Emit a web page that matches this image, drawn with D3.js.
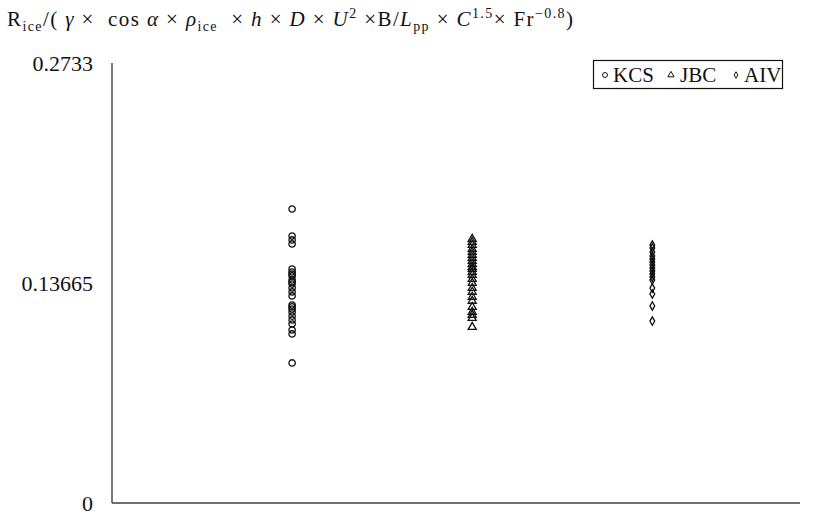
<!DOCTYPE html>
<html>
<head>
<meta charset="utf-8">
<script src="https://cdn.jsdelivr.net/npm/d3@7"></script>
<style>
  body { margin: 0; background: #fff; }
</style>
</head>
<body>
<svg id="chart" width="818" height="516" font-family="'Liberation Serif', 'DejaVu Serif', serif"></svg>
<script>
const svg = d3.select("#chart");

// data
const series_names = ["KCS", "JBC", "AIV"];
const series_x = [1, 2, 3];
const kcs_vals = [0.1826, 0.1658, 0.1634, 0.1609, 0.1453, 0.1435, 0.1422, 0.1410, 0.1385, 0.1373, 0.1360,
	0.1335, 0.1311, 0.1286, 0.1230, 0.1218, 0.1205, 0.1186, 0.1161, 0.1137, 0.1112, 0.1075, 0.1050, 0.0870];
const jbc_vals = [0.1640, 0.1621, 0.1602, 0.1578, 0.1559, 0.1540, 0.1522, 0.1503, 0.1484, 0.1466, 0.1453,
	0.1435, 0.1416, 0.1391, 0.1366, 0.1335, 0.1311, 0.1280, 0.1255, 0.1217, 0.1186, 0.1168, 0.1149, 0.1093];
const aiv_vals = [0.1602, 0.1584, 0.1559, 0.1534, 0.1516, 0.1497, 0.1478, 0.1460, 0.1441, 0.1422, 0.1404,
	0.1385, 0.1335, 0.1298, 0.1224, 0.1130];
const y_ticks = [0, 0.13665, 0.2733];
const y_tick_labels = ["0", "0.13665", "0.2733"];

const x = d3.scaleLinear().domain([0, 3.82]).range([112, 800]);
const y = d3.scaleLinear().domain([0, 0.2733]).range([503, 63]);

// axes
svg.append("line").attr("x1", x(0)).attr("x2", x(0)).attr("y1", y(0.2733)).attr("y2", y(0))
	.attr("stroke", "#404040").attr("stroke-width", 1.4);
svg.append("line").attr("x1", x(0)).attr("x2", x(3.82)).attr("y1", y(0)).attr("y2", y(0))
	.attr("stroke", "#404040").attr("stroke-width", 1.4);

svg.append("g")
	.selectAll("text")
	.data(y_ticks)
	.join("text")
	.attr("x", 93)
	.attr("y", (d) => y(d))
	.attr("dy", "0.35em")
	.attr("text-anchor", "end")
	.attr("font-size", 22)
	.attr("fill", "#111")
	.text((d, i) => y_tick_labels[i]);

// markers
const shapes = [d3.symbolCircle, d3.symbolTriangle, d3.symbolDiamond];
const sizes = [32, 28, 20];
const all_vals = [kcs_vals, jbc_vals, aiv_vals];

all_vals.forEach((vals, i) => {
	svg.append("g")
		.selectAll("path")
		.data(vals)
		.join("path")
		.attr("d", d3.symbol().type(shapes[i]).size(sizes[i]))
		.attr("transform", (d) => `translate(${x(series_x[i])},${y(d)})`)
		.attr("fill", "none")
		.attr("stroke", "#111")
		.attr("stroke-width", 1.3);
});

// legend
const legend = svg.append("g");
legend.append("rect").attr("x", 593.5).attr("y", 60.5).attr("width", 189).attr("height", 28)
	.attr("fill", "#fff").attr("stroke", "#111").attr("stroke-width", 1.2);
const legend_sym_x = [605, 671, 736];
const legend_text_x = [613, 680, 744];
series_names.forEach((name, i) => {
	legend.append("path")
		.attr("d", d3.symbol().type(shapes[i]).size(sizes[i] * 0.6))
		.attr("transform", `translate(${legend_sym_x[i]},75)`)
		.attr("fill", "none").attr("stroke", "#111").attr("stroke-width", 1);
	legend.append("text").attr("x", legend_text_x[i]).attr("y", 82)
		.attr("font-size", 21).attr("fill", "#111").text(name);
});

// title
const title = svg.append("text").attr("x", 7).attr("y", 26).attr("font-size", 21).attr("fill", "#111")
	.attr("textLength", 566).attr("lengthAdjust", "spacing");
const parts = [
	["R", ""], ["ice", "sub"], ["/( ", ""], ["γ", "it"], [" ×  cos ", ""], ["α", "it"], [" × ", ""],
	["ρ", "it"], ["ice", "sub"], ["  × ", ""], ["h", "it"], [" × ", ""], ["D", "it"], [" × ", ""],
	["U", "it"], ["2", "sup"], [" ×B/", ""], ["L", "it"], ["pp", "sub"], [" × ", ""], ["C", "it"],
	["1.5", "sup"], ["× Fr", ""], ["−0.8", "sup"], [")", ""]
];
let prev = "";
parts.forEach(([t, kind]) => {
	const ts = title.append("tspan").text(t);
	let dy = 0;
	if (kind === "sub") dy = 5;
	if (kind === "sup") dy = -8;
	const back = prev === "sub" ? -5 : prev === "sup" ? 8 : 0;
	if (dy + back !== 0) ts.attr("dy", dy + back);
	if (kind === "sub" || kind === "sup") ts.attr("font-size", 14);
	if (kind === "it") ts.attr("font-style", "italic");
	prev = kind;
});
title.style("white-space", "pre");
</script>
</body>
</html>
